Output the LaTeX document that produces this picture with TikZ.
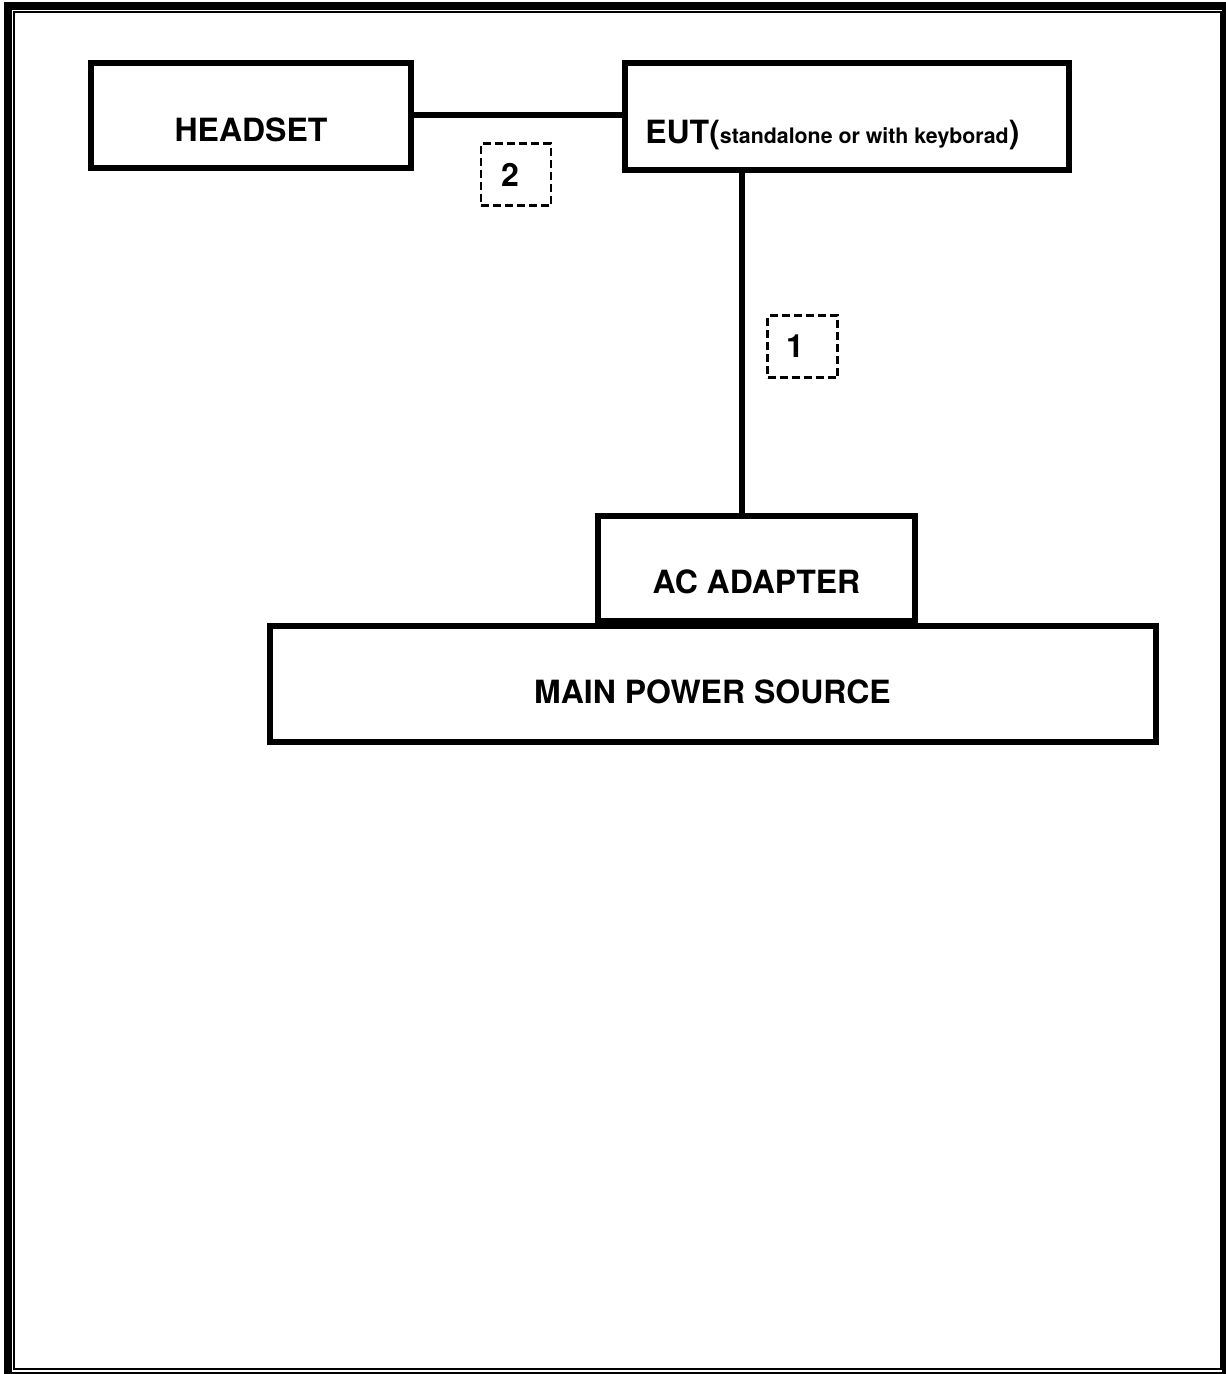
\documentclass[tikz,border=0pt]{standalone}
\usepackage{fontspec}
\setmainfont{TeX Gyre Heros}
\begin{document}
\begin{tikzpicture}[x=0.75pt, y=-0.75pt,
  box/.style={draw, line width=4.5pt, fill=white, inner sep=0pt},
  cable/.style={line width=4pt},
  tag/.style={draw, line width=1.6pt, dash pattern=on 6pt off 3pt, minimum width=52.5pt, minimum height=46.5pt, inner sep=0pt},
  lbl/.style={font=\fontsize{24}{28}\selectfont\bfseries, anchor=base, inner sep=0pt}]
  \useasboundingbox (0,0) rectangle (1226,1374);
  % page frame
  \draw[line width=5.5pt] (8,6) rectangle (1226,1376);
  \draw[line width=1.8pt] (14,12) rectangle (1221,1369);
  % equipment
  \node[box, minimum width=240pt, minimum height=78.75pt] (headset) at (250.5,115) {};
  \node[box, minimum width=333pt, minimum height=80.25pt] (eut) at (846.5,116) {};
  \node[box, minimum width=237.75pt, minimum height=78.75pt] (adapter) at (756,568) {};
  \node[box, minimum width=664.5pt, minimum height=87pt] (mains) at (712.5,683.5) {};
  \node[lbl] (headsettxt) at (251,141) {HEADSET};
  \node[lbl, anchor=base west] (euttxt) at (645,143) {EUT({\fontsize{16}{19}\selectfont standalone or with keyborad})};
  \node[lbl] (adaptertxt) at (756.5,593) {AC ADAPTER};
  \node[lbl] (mainstxt) at (712.5,703) {MAIN POWER SOURCE};
  % cables
  \coordinate (tap) at (742,0);
  \draw[cable] (headset.east) -- (headset.east -| eut.west);
  \draw[cable] (tap |- eut.south) -- (tap |- adapter.north);
  % cable numbers
  \node[tag] (tag2) at (516,174.5) {};
  \node[lbl] (num2) at (510,186) {2};
  \node[tag] (tag1) at (802.5,346.5) {};
  \node[lbl] (num1) at (795,357) {1};
\end{tikzpicture}
\end{document}
